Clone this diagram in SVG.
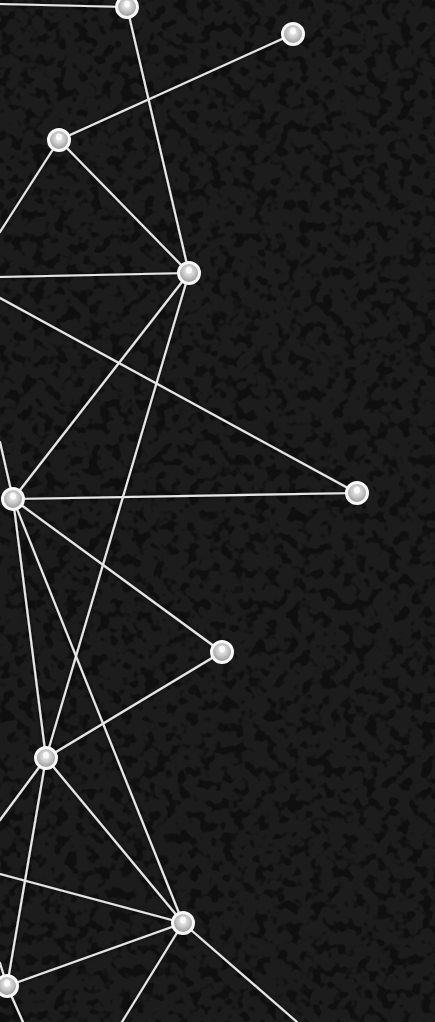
<svg xmlns="http://www.w3.org/2000/svg" width="435" height="1022" viewBox="0 0 435 1022">
<defs>
<style>
.ln{stroke:#e6e6e6;stroke-width:2.2;stroke-linecap:round;fill:none}
.nd{fill:url(#ball);stroke:#f7f7f7;stroke-width:3}
.hl{fill:#ffffff;opacity:0.8}
</style>
<radialGradient id="ball" cx="0.5" cy="0.42" r="0.6">
<stop offset="0" stop-color="#f4f4f4"/>
<stop offset="0.4" stop-color="#cfcfcf"/>
<stop offset="0.8" stop-color="#a2a2a2"/>
<stop offset="1" stop-color="#c8c8c8"/>
</radialGradient>
<filter id="tex" x="0" y="0" width="100%" height="100%">
<feTurbulence type="fractalNoise" baseFrequency="0.09" numOctaves="2" seed="7"/>
<feColorMatrix type="matrix" values="0 0 0 0 0  0 0 0 0 0  0 0 0 0 0  8 0 0 0 -4.1"/>
</filter>
<filter id="halo" x="-5%" y="-5%" width="110%" height="110%">
<feGaussianBlur in="SourceAlpha" stdDeviation="2.2" result="b"/>
<feFlood flood-color="#000" flood-opacity="0.8"/>
<feComposite in2="b" operator="in" result="s"/>
<feMerge><feMergeNode in="s"/><feMergeNode in="SourceGraphic"/></feMerge>
</filter>
</defs>
<rect width="435" height="1022" fill="#1c1c1c"/>
<rect width="435" height="1022" fill="#000" filter="url(#tex)" opacity="0.45"/>
<g id="connectors" filter="url(#halo)">
<line class="ln" x1="0" y1="4" x2="127" y2="7"/>
<line class="ln" x1="127" y1="7" x2="189" y2="273"/>
<line class="ln" x1="293" y1="34" x2="59" y2="140"/>
<line class="ln" x1="59" y1="140" x2="0" y2="232"/>
<line class="ln" x1="59" y1="140" x2="189" y2="273"/>
<line class="ln" x1="0" y1="277" x2="189" y2="273"/>
<line class="ln" x1="0" y1="298" x2="357" y2="493"/>
<line class="ln" x1="189" y1="273" x2="13" y2="499"/>
<line class="ln" x1="189" y1="273" x2="46" y2="758"/>
<line class="ln" x1="0" y1="442" x2="13" y2="499"/>
<line class="ln" x1="13" y1="499" x2="357" y2="493"/>
<line class="ln" x1="13" y1="499" x2="222" y2="652"/>
<line class="ln" x1="13" y1="499" x2="46" y2="758"/>
<line class="ln" x1="13" y1="499" x2="183" y2="923"/>
<line class="ln" x1="222" y1="652" x2="46" y2="758"/>
<line class="ln" x1="46" y1="758" x2="0" y2="820"/>
<line class="ln" x1="46" y1="758" x2="7" y2="986"/>
<line class="ln" x1="46" y1="758" x2="183" y2="923"/>
<line class="ln" x1="0" y1="874" x2="183" y2="923"/>
<line class="ln" x1="183" y1="923" x2="7" y2="986"/>
<line class="ln" x1="183" y1="923" x2="122" y2="1022"/>
<line class="ln" x1="183" y1="923" x2="297" y2="1022"/>
<line class="ln" x1="0" y1="963" x2="7" y2="986"/>
<line class="ln" x1="7" y1="986" x2="23" y2="1022"/>
</g>
<g id="node-a"><circle class="nd" cx="127" cy="7" r="10.5"/><ellipse class="hl" cx="127" cy="4" rx="3" ry="3.5"/></g>
<g id="node-b"><circle class="nd" cx="293" cy="34" r="10.5"/><ellipse class="hl" cx="293" cy="31" rx="3" ry="3.5"/></g>
<g id="node-c"><circle class="nd" cx="59" cy="140" r="10.5"/><ellipse class="hl" cx="59" cy="137" rx="3" ry="3.5"/></g>
<g id="node-d"><circle class="nd" cx="189" cy="273" r="10.5"/><ellipse class="hl" cx="189" cy="270" rx="3" ry="3.5"/></g>
<g id="node-e"><circle class="nd" cx="13" cy="499" r="10.5"/><ellipse class="hl" cx="13" cy="496" rx="3" ry="3.5"/></g>
<g id="node-f"><circle class="nd" cx="357" cy="493" r="10.5"/><ellipse class="hl" cx="357" cy="490" rx="3" ry="3.5"/></g>
<g id="node-g"><circle class="nd" cx="222" cy="652" r="10.5"/><ellipse class="hl" cx="222" cy="649" rx="3" ry="3.5"/></g>
<g id="node-h"><circle class="nd" cx="46" cy="758" r="10.5"/><ellipse class="hl" cx="46" cy="755" rx="3" ry="3.5"/></g>
<g id="node-i"><circle class="nd" cx="183" cy="923" r="10.5"/><ellipse class="hl" cx="183" cy="920" rx="3" ry="3.5"/></g>
<g id="node-j"><circle class="nd" cx="7" cy="986" r="10.5"/><ellipse class="hl" cx="7" cy="983" rx="3" ry="3.5"/></g>
</svg>
